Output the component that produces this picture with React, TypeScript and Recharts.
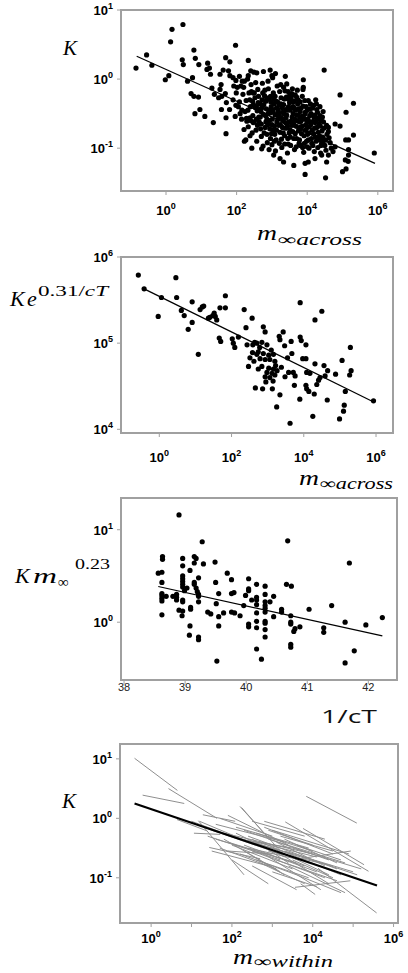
import React from 'react';
import { ScatterChart, Scatter, XAxis, YAxis, ReferenceArea } from 'recharts';

type Pair = [number, number];
type Seg = [number, number, number, number];

const FRAME = '#a0a0a0';
const GRAY = '#8f8f8f';
const SANS = '"Liberation Sans", Arial, sans-serif';
const SERIF = '"Liberation Serif", "DejaVu Serif", serif';

// panel 1: [log10 m∞ across, log10 K]
const ACROSS_SPARSE: Pair[] = [
  [-0.85, 0.16], [-0.55, 0.35], [-0.4, 0.2], [0.13, 0.54], [0.17, 0.72], [0.48, 0.79], [-0.02, -0.01],
  [0.08, 0.05], [0.46, 0.28], [0.49, 0.21], [0.61, -0.03], [0.75, 0.02], [0.79, 0.42], [0.83, 0.3],
  [0.93, 0.21], [0.71, -0.21], [0.79, -0.25], [0.92, -0.26], [0.82, -0.5], [0.96, -0.44], [1.1, -0.54],
  [1.18, 0.23], [1.23, 0.16], [1.16, 0.14], [1.26, 0.07], [1.34, -0.63], [1.3, -0.13], [1.37, -0.22],
  [1.69, 0.31], [1.97, 0.49], [1.7, -0.79], [1.81, 0.25], [1.62, 0.13], [1.77, 0.12], [1.53, 0.07],
  [1.56, -0.08], [1.53, -0.15], [1.49, -0.27], [1.58, -0.25], [1.68, -0.21], [1.81, 0.05], [1.9, 0.02],
  [1.98, -0.02], [2.08, 0.04], [2.12, -0.1], [2.22, -0.03], [2.33, 0.27], [2.33, 0.05], [2.4, 0.12],
  [2.49, 0.1], [2.31, 0.0], [2.47, -0.2], [1.99, -0.2], [1.9, -0.3], [1.71, -0.34], [1.57, -0.44],
  [1.8, -0.44], [1.7, -0.56], [1.96, -0.54], [2.05, -0.4], [2.15, -0.45], [2.21, -0.73], [2.22, -0.9],
  [2.26, -0.88], [2.38, -0.82], [2.43, -1.0], [2.29, -0.61], [2.38, -0.56], [2.47, -0.63], [2.56, -0.4],
  [2.57, 0.09], [2.95, 0.13], [3.0, 0.05], [3.02, 0.02], [2.89, -0.03], [3.42, -0.07], [3.33, -0.12],
  [3.89, -0.01], [3.89, -0.12], [4.48, 0.13], [4.93, -0.23], [5.31, -0.35], [5.1, -0.48], [4.79, -0.65],
  [4.93, -0.68], [5.31, -0.81], [5.09, -0.88], [5.17, -0.88], [5.17, -1.02], [5.17, -1.1], [5.08, -1.17],
  [5.16, -1.19], [5.9, -1.07], [5.0, -1.34], [5.1, -1.3], [4.52, -1.43], [3.94, -1.38], [3.94, -1.22],
  [4.03, -1.2], [3.62, -1.25], [3.33, -1.2], [3.23, -1.15], [3.05, -1.1], [2.71, -1.01], [4.22, -1.15],
  [4.41, -1.1], [4.55, -1.2], [4.6, -1.1], [4.73, -1.05], [4.79, -0.98], [4.45, -0.93], [4.41, -0.86],
  [4.6, -0.76], [4.55, -0.67], [4.31, -0.57], [4.22, -0.52], [4.36, -0.4], [4.26, -0.36], [4.03, -0.31],
  [4.08, -0.43], [3.94, -0.5], [3.8, -0.33], [3.75, -0.43], [3.7, -0.26], [3.6, -0.33], [3.56, -0.21],
  [3.46, -0.29], [2.76, 0.11], [3.38, 0.04], [3.1, 0.08],
];
const ACROSS_CORE: Pair[] = [
  [2.02, -0.12], [2.18, -0.22], [2.27, -0.31], [2.41, -0.08], [2.52, -0.27], [2.6, -0.15], [2.66, -0.36],
  [2.73, -0.06], [2.79, -0.24], [2.84, -0.43], [2.9, -0.14], [2.97, -0.33], [3.04, -0.2], [3.09, -0.52],
  [3.15, -0.1], [3.2, -0.38], [3.26, -0.27], [3.31, -0.6], [3.37, -0.17], [3.43, -0.45], [3.5, -0.34],
  [3.57, -0.55], [3.63, -0.42], [3.68, -0.68], [3.74, -0.52], [3.82, -0.61], [3.88, -0.39], [3.95, -0.74],
  [4.02, -0.58], [4.1, -0.66], [4.18, -0.79], [4.27, -0.7], [4.34, -0.88], [4.42, -0.75], [4.5, -0.96],
  [4.62, -0.85], [4.68, -1.0], [2.08, -0.33], [2.14, -0.58], [2.24, -0.47], [2.33, -0.69], [2.39, -0.4],
  [2.46, -0.53], [2.55, -0.74], [2.58, -0.46], [2.64, -0.62], [2.7, -0.83], [2.76, -0.51], [2.81, -0.7],
  [2.87, -0.92], [2.93, -0.6], [2.99, -0.79], [3.02, -0.44], [3.07, -0.68], [3.12, -0.88], [3.17, -0.58],
  [3.23, -0.77], [3.28, -0.99], [3.34, -0.5], [3.39, -0.71], [3.45, -0.86], [3.48, -0.62], [3.53, -0.96],
  [3.59, -0.76], [3.64, -1.02], [3.7, -0.86], [3.77, -0.93], [3.84, -0.79], [3.9, -1.06], [3.98, -0.9],
  [4.05, -1.0], [4.13, -0.93], [4.2, -1.05], [4.3, -0.99], [4.38, -1.07], [2.2, -0.12], [2.35, -0.2],
  [2.48, -0.37], [2.62, -0.25], [2.69, -0.47], [2.83, -0.32], [2.95, -0.49], [3.05, -0.29], [3.13, -0.42],
  [3.22, -0.18], [3.3, -0.48], [3.41, -0.26], [3.55, -0.3], [3.66, -0.23], [3.73, -0.36], [3.8, -0.47],
  [3.86, -0.25], [3.92, -0.57], [4.0, -0.45], [4.07, -0.53], [4.15, -0.42], [4.22, -0.63], [4.29, -0.48],
  [4.4, -0.6], [4.47, -0.71], [4.56, -0.8], [4.65, -0.92], [2.5, -0.62], [2.57, -0.9], [2.68, -0.72],
  [2.75, -0.97], [2.86, -0.58], [2.92, -1.02], [3.0, -0.95], [3.1, -1.04], [3.19, -0.67], [3.27, -0.87],
  [3.36, -0.94], [3.44, -1.07], [3.51, -0.73], [3.61, -0.64], [3.69, -0.98], [3.79, -0.7], [3.87, -0.99],
  [3.96, -0.66], [4.04, -0.78], [4.12, -0.86], [4.25, -0.9], [4.33, -0.65], [4.44, -0.84], [4.53, -1.03],
  [1.92, -0.1], [1.98, -0.38], [2.1, -0.5], [2.16, -0.03], [2.28, -0.57], [2.37, -0.3], [2.44, -0.78],
  [2.54, -0.05], [2.63, -0.55], [2.72, -0.3], [2.8, -0.16], [2.88, -0.66], [2.96, -0.25], [3.03, -0.74],
  [3.11, -0.32], [3.18, -0.5], [3.25, -0.08], [3.33, -0.37], [3.4, -0.56], [3.46, -0.18], [3.52, -0.45],
  [3.58, -0.14], [3.65, -0.58], [3.72, -0.16], [3.78, -0.62], [3.85, -0.54], [3.93, -0.31], [4.0, -0.7],
  [4.09, -0.36], [4.17, -0.61], [4.24, -0.3], [4.36, -0.53], [4.45, -0.47],
];
const ACROSS_DENSE: Pair[] = [
  [2.45, -0.32], [2.53, -0.41], [2.61, -0.34], [2.67, -0.55], [2.71, -0.42], [2.77, -0.37], [2.82, -0.53],
  [2.85, -0.27], [2.91, -0.45], [2.94, -0.72], [2.98, -0.4], [3.01, -0.58], [3.06, -0.36], [3.08, -0.8],
  [3.14, -0.62], [3.16, -0.33], [3.21, -0.53], [3.24, -0.66], [3.29, -0.41], [3.32, -0.78], [3.35, -0.29],
  [3.38, -0.63], [3.42, -0.52], [3.47, -0.4], [3.49, -0.78], [3.54, -0.61], [3.56, -0.24], [3.6, -0.5],
  [3.62, -0.86], [3.67, -0.45], [3.71, -0.6], [3.75, -0.75], [3.79, -0.55], [3.83, -0.42], [3.86, -0.68],
  [3.91, -0.82], [3.94, -0.48], [3.99, -0.6], [4.03, -0.88], [4.06, -0.69], [4.11, -0.5], [4.14, -0.74],
  [4.19, -0.55], [4.23, -0.84], [4.28, -0.59], [4.31, -0.77], [4.37, -0.68], [4.41, -0.93], [4.46, -0.62],
  [4.52, -0.88], [2.5, -0.2], [2.56, -0.58], [2.64, -0.44], [2.7, -0.65], [2.74, -0.2], [2.78, -0.78],
  [2.83, -0.62], [2.89, -0.5], [2.92, -0.29], [2.96, -0.86], [3.0, -0.66], [3.04, -0.48], [3.09, -0.25],
  [3.13, -0.74], [3.18, -0.45], [3.21, -0.93], [3.27, -0.56], [3.3, -0.7], [3.36, -0.82], [3.39, -0.44],
  [3.44, -0.68], [3.48, -0.25], [3.52, -0.84], [3.57, -0.67], [3.6, -0.4], [3.66, -0.79], [3.7, -0.52],
  [3.74, -0.3], [3.78, -0.88], [3.82, -0.71], [3.89, -0.58], [3.92, -0.93], [3.97, -0.4], [4.01, -0.8],
  [4.08, -0.62], [4.16, -0.96], [4.21, -0.71], [4.27, -0.44], [4.35, -0.82], [4.43, -0.55], [2.32, -0.45],
  [2.4, -0.6], [2.42, -0.18], [2.59, -0.67], [2.86, -0.8], [3.07, -0.9], [3.25, -0.36], [3.46, -0.94],
  [3.63, -0.32], [3.81, -0.96], [3.88, -0.15], [4.0, -0.98], [4.18, -0.38], [4.39, -0.96], [4.6, -0.7],
];
const ACROSS_FIT: Pair[] = [[-0.83, 0.33], [5.92, -1.22]];

// panel 2: [log10 m∞ across, log10 K e^(0.31/cT)]
const TEMP_CORR: Pair[] = [
  [-0.58, 5.79], [-0.42, 5.63], [-0.03, 5.31], [0.06, 5.53], [0.46, 5.76], [0.48, 5.53], [0.61, 5.38],
  [0.69, 5.32], [0.8, 5.16], [0.91, 5.48], [0.91, 5.24], [1.08, 4.87], [1.13, 5.39], [1.19, 5.42],
  [1.23, 5.43], [1.36, 5.29], [1.4, 5.3], [1.48, 5.32], [1.52, 5.35], [1.55, 5.31], [1.59, 5.27],
  [1.68, 5.41], [1.66, 5.06], [1.7, 5.02], [1.83, 5.55], [1.83, 5.41], [2.02, 5.05], [2.05, 5.0],
  [2.09, 4.95], [2.19, 5.07], [2.35, 5.39], [2.4, 5.18], [2.43, 4.98], [2.47, 4.73], [2.57, 5.29],
  [2.59, 4.98], [2.64, 5.01], [2.66, 4.48], [2.7, 4.87], [2.58, 4.89], [2.88, 5.19], [2.93, 5.13],
  [2.7, 5.0], [2.84, 5.01], [2.98, 4.98], [2.74, 4.9], [2.88, 4.88], [3.03, 4.86], [3.16, 4.87],
  [2.79, 4.82], [2.93, 4.81], [3.06, 4.81], [3.2, 4.79], [2.84, 4.73], [3.03, 4.71], [3.16, 4.7],
  [3.26, 4.68], [2.74, 4.7], [2.98, 4.66], [3.12, 4.65], [2.93, 4.61], [3.06, 4.6], [3.2, 4.63],
  [2.86, 4.47], [3.13, 4.47], [3.34, 4.4], [3.25, 4.26], [3.34, 5.04], [3.32, 5.08], [3.43, 5.13],
  [3.47, 4.97], [3.65, 5.02], [3.67, 4.88], [3.9, 5.47], [3.9, 5.07], [3.93, 5.03], [4.06, 4.98],
  [3.97, 4.82], [4.06, 4.82], [3.58, 4.66], [3.71, 4.66], [3.76, 4.62], [3.48, 4.61], [3.74, 4.51],
  [3.89, 4.35], [4.08, 4.66], [4.17, 4.65], [4.06, 4.51], [4.08, 4.47], [4.14, 4.44], [4.29, 4.41],
  [4.31, 5.27], [4.5, 5.37], [4.31, 4.76], [4.36, 4.52], [4.41, 4.57], [4.45, 4.6], [4.56, 4.74],
  [4.59, 4.62], [4.66, 4.68], [4.65, 4.34], [4.25, 4.15], [3.62, 4.07], [4.88, 4.64], [5.06, 4.8],
  [5.29, 4.95], [5.31, 4.68], [5.27, 4.63], [5.15, 4.44], [5.12, 4.28], [5.1, 4.21], [4.99, 4.12],
  [5.93, 4.33], [2.62, 4.79], [2.78, 4.95], [3.1, 4.92], [3.22, 4.74], [2.95, 4.55], [3.15, 4.56],
  [2.51, 4.83], [3.38, 4.72], [3.55, 4.83],
];
const TEMP_FIT: Pair[] = [[-0.42, 5.63], [5.92, 4.32]];

// panel 3: [1/cT, log10 K m∞^0.23]
const MASS_CORR: Pair[] = [
  [38.9, 1.16], [39.28, 0.87], [38.63, 0.71], [38.63, 0.68], [38.56, 0.53], [38.62, 0.54], [38.62, 0.43],
  [38.62, 0.31], [38.62, 0.29], [38.69, 0.28], [38.62, 0.26], [38.62, 0.23], [38.62, 0.08], [38.8, 0.28],
  [38.86, 0.27], [38.86, 0.24], [38.86, 0.3], [38.9, 0.13], [38.96, 0.12], [38.95, 0.07], [38.96, 0.69],
  [38.96, 0.61], [38.96, 0.5], [38.96, 0.47], [38.96, 0.44], [38.96, 0.41], [38.96, 0.38], [38.99, 0.34],
  [39.03, 0.37], [38.96, 0.24], [38.96, 0.22], [39.08, 0.56], [39.15, 0.71], [39.18, 0.69], [39.15, 0.64],
  [39.22, 0.48], [39.15, 0.43], [39.15, 0.41], [39.18, 0.37], [39.2, 0.33], [39.22, 0.3], [39.22, 0.28],
  [39.22, 0.22], [39.09, 0.16], [39.09, 0.14], [39.08, -0.04], [39.07, -0.14], [39.22, -0.16],
  [39.22, -0.19], [39.3, 0.63], [39.49, 0.65], [39.5, 0.43], [39.55, 0.31], [39.51, 0.2], [39.55, 0.06],
  [39.55, -0.04], [39.37, 0.11], [39.42, 0.09], [39.63, 0.1], [39.69, 0.53], [39.76, 0.46], [39.76, 0.31],
  [39.8, 0.32], [39.76, 0.11], [39.81, 0.1], [39.9, 0.07], [39.96, 0.18], [39.99, 0.29], [40.04, 0.47],
  [40.04, 0.36], [40.04, 0.34], [40.04, -0.02], [40.04, -0.05], [40.09, 0.24], [40.17, 0.41],
  [40.17, 0.27], [40.17, 0.24], [40.17, 0.19], [40.17, 0.1], [40.17, 0.01], [40.17, -0.06], [40.17, -0.29],
  [39.52, -0.42], [40.31, 0.39], [40.31, 0.3], [40.31, 0.22], [40.31, 0.18], [40.31, 0.15], [40.31, 0.11],
  [40.31, 0.01], [40.31, -0.01], [40.31, -0.08], [40.31, -0.16], [40.25, -0.4], [40.39, 0.22],
  [40.45, 0.28], [40.45, 0.06], [40.58, 0.14], [40.58, 0.11], [40.68, 0.88], [40.66, 0.41], [40.74, 0.39],
  [40.73, 0.07], [40.73, 0.0], [40.73, -0.02], [40.73, -0.24], [40.73, -0.27], [40.78, -0.1], [40.8, -0.07],
  [40.88, -0.05], [41.03, 0.14], [41.27, -0.06], [41.27, -0.11], [41.4, 0.18], [41.62, 0.0], [41.69, 0.64],
  [41.77, -0.31], [41.62, -0.44], [41.96, -0.03], [42.23, 0.05],
];
const MASS_FIT: Pair[] = [[38.56, 0.386], [42.23, -0.148]];

// panel 4: within-group regressions, [log10 m1, log10 K1, log10 m2, log10 K2]
const WITHIN_SEGMENTS: Seg[] = [
  [-0.41, 1.01, 0.65, 0.47], [-0.21, 0.39, 0.82, 0.25], [0.43, 0.5, 1.63, 0.0], [3.84, 0.37, 5.09, -0.08],
  [3.32, -0.06, 5.38, -0.89], [3.76, -0.17, 5.27, -0.78], [4.13, -0.84, 5.58, -1.59], [3.57, -0.69, 4.94, -0.55],
  [3.56, -1.16, 4.93, -1.05], [0.64, -0.02, 1.38, -0.21], [1.17, -0.04, 2.3, -0.95], [1.06, -0.25, 1.71, -0.27],
  [1.28, 0.06, 2.08, -0.05], [1.44, -0.49, 2.7, -0.68], [2.24, 0.18, 2.86, -0.3],
  [1.2, -0.05, 2.6, -0.45], [1.3, -0.15, 3.0, -0.55], [1.4, -0.3, 3.2, -0.7], [1.5, -0.2, 3.5, -0.6],
  [1.6, -0.1, 3.3, -0.4], [1.6, -0.35, 3.6, -0.75], [1.7, -0.5, 3.1, -0.85], [1.8, -0.25, 4.0, -0.6],
  [1.9, 0.05, 3.4, -0.45], [1.9, -0.4, 3.8, -0.8], [2.0, -0.3, 4.2, -0.75], [2.1, -0.15, 3.9, -0.5],
  [2.2, -0.6, 3.6, -0.95], [2.3, -0.2, 4.4, -0.7], [2.3, -0.45, 4.1, -0.9], [2.4, -0.3, 4.6, -0.85],
  [2.5, -0.05, 3.8, -0.3], [2.5, -0.55, 4.3, -1.0], [2.6, -0.25, 4.0, -0.55], [2.7, -0.4, 4.7, -0.95],
  [2.8, -0.15, 4.5, -0.6], [2.8, -0.6, 4.2, -1.2], [2.9, -0.35, 4.8, -0.75], [3.0, -0.5, 4.4, -0.95],
  [3.0, -0.2, 4.9, -0.6], [3.1, -0.7, 4.6, -1.05], [3.2, -0.3, 4.5, -0.55], [3.3, -0.55, 5.0, -0.9],
  [3.4, -0.8, 4.8, -1.25], [2.0, -0.7, 2.9, -1.1], [2.2, 0.2, 3.2, -0.55], [2.8, -0.05, 4.3, -0.35],
  [3.5, -0.5, 5.2, -0.85], [4.0, -0.7, 5.1, -0.95], [3.6, -0.95, 4.7, -1.25], [3.0, -0.9, 4.1, -1.15],
  [2.5, -0.8, 3.6, -1.2], [3.7, -1.1, 4.06, -1.28], [1.0, -0.05, 2.2, -0.35], [1.5, -0.55, 2.9, -0.8],
  [2.6, -0.7, 3.9, -1.0], [1.7, 0.0, 3.0, -0.3], [2.2, -0.35, 3.5, -0.5], [3.1, -0.4, 4.3, -0.8],
  [1.8, -0.35, 3.2, -0.9], [2.0, -0.45, 3.5, -0.85], [2.4, -0.5, 3.7, -0.7], [2.6, -0.4, 4.1, -0.65],
  [2.1, -0.25, 3.3, -0.65], [2.9, -0.55, 4.5, -0.8], [3.2, -0.6, 4.4, -1.1], [2.7, -0.75, 3.8, -1.1],
  [2.3, -0.55, 3.3, -0.95], [3.3, -0.35, 4.6, -0.75], [1.9, -0.55, 3.0, -0.6], [2.5, -0.35, 3.4, -0.75],
  [3.5, -0.7, 4.5, -1.0], [2.9, -0.2, 4.0, -0.45], [3.6, -0.45, 4.7, -0.7],
];
const WITHIN_FIT: Pair[] = [[-0.41, 0.25], [5.59, -1.13]];

const logLog = (v: Pair[]) => v.map(([a, b]) => ({ x: 10 ** a, y: 10 ** b }));
const linLog = (v: Pair[]) => v.map(([a, b]) => ({ x: a, y: 10 ** b }));

const Dot = (p: any) => <circle cx={p.cx} cy={p.cy} r={2.6} fill="#000" />;
const NoShape = () => <g />;

function PowTickX(props: any) {
  const { x, y, payload, drop, evenOnly } = props;
  const e = Math.round(Math.log10(payload.value));
  if (evenOnly && e % 2 !== 0) return <g />;
  return (
    <text x={x} y={y + drop} textAnchor="middle" fontFamily={SANS} fontWeight={700} fontSize={13} fill="#000">
      10<tspan dy={-6} fontSize={9}>{e}</tspan>
    </text>
  );
}

function PowTickY(props: any) {
  const { x, y, payload } = props;
  const e = Math.round(Math.log10(payload.value));
  return (
    <text x={x} y={y + 5} textAnchor="end" fontFamily={SANS} fontWeight={700} fontSize={13} fill="#000">
      10<tspan dy={-6} fontSize={9}>{e}</tspan>
    </text>
  );
}

function PlainTickX(props: any) {
  const { x, y, payload } = props;
  return (
    <text x={x} y={y + 5} textAnchor="middle" fontFamily={SANS} fontSize={11} fill="#222">
      {payload.value}
    </text>
  );
}

const axisLine = { stroke: FRAME, strokeWidth: 2 };
const tickLine = { stroke: FRAME };

const P1X: [number, number] = [10 ** -1.275, 10 ** 6.43];
const P1Y: [number, number] = [10 ** -1.62, 10];
const P2X: [number, number] = [10 ** -1.06, 10 ** 6.47];
const P2Y: [number, number] = [10 ** 3.957, 10 ** 6];
const P3X: [number, number] = [37.95, 42.47];
const P3Y: [number, number] = [10 ** -0.625, 10 ** 1.343];
const P4X: [number, number] = [10 ** -0.77, 10 ** 6.11];
const P4Y: [number, number] = [10 ** -1.76, 10 ** 1.25];

export default function App() {
  return (
    <div style={{ position: 'absolute', left: 0, top: 0, width: 408, height: 973, background: '#fff' }}>
      <div style={{ position: 'absolute', left: 0, top: 0 }}>
        <ScatterChart width={408} height={240} margin={{ top: 10, right: 15, bottom: 19, left: 0 }}>
          <XAxis type="number" dataKey="x" scale="log" domain={P1X} allowDataOverflow ticks={[1, 1e2, 1e4, 1e6]}
            interval={0} height={30} axisLine={axisLine} tickLine={tickLine} tickSize={4}
            tick={(p: any) => <PowTickX {...p} drop={18} />} />
          <YAxis type="number" dataKey="y" scale="log" domain={P1Y} allowDataOverflow ticks={[0.1, 1, 10]}
            interval={0} width={121} axisLine={axisLine} tickLine={tickLine} tickSize={4} tickMargin={4}
            tick={(p: any) => <PowTickY {...p} />} />
          <ReferenceArea x1={P1X[0]} x2={P1X[1]} y1={P1Y[0]} y2={P1Y[1]} fill="none" stroke={FRAME} strokeWidth={2} ifOverflow="visible" />
          <Scatter data={logLog(ACROSS_SPARSE)} shape={Dot} isAnimationActive={false} />
          <Scatter data={logLog(ACROSS_CORE)} shape={Dot} isAnimationActive={false} />
          <Scatter data={logLog(ACROSS_DENSE)} shape={Dot} isAnimationActive={false} />
          <Scatter data={logLog(ACROSS_FIT)} shape={NoShape} line={{ stroke: '#000', strokeWidth: 1.2 }} isAnimationActive={false} />
        </ScatterChart>
      </div>

      <div style={{ position: 'absolute', left: 0, top: 245 }}>
        <ScatterChart width={408} height={230} margin={{ top: 12, right: 15, bottom: 7, left: 0 }}>
          <XAxis type="number" dataKey="x" scale="log" domain={P2X} allowDataOverflow ticks={[1, 1e2, 1e4, 1e6]}
            interval={0} height={35} axisLine={axisLine} tickLine={tickLine} tickSize={4}
            tick={(p: any) => <PowTickX {...p} drop={23} />} />
          <YAxis type="number" dataKey="y" scale="log" domain={P2Y} allowDataOverflow ticks={[1e4, 1e5, 1e6]}
            interval={0} width={121} axisLine={axisLine} tickLine={tickLine} tickSize={4} tickMargin={4}
            tick={(p: any) => <PowTickY {...p} />} />
          <ReferenceArea x1={P2X[0]} x2={P2X[1]} y1={P2Y[0]} y2={P2Y[1]} fill="none" stroke={FRAME} strokeWidth={2} ifOverflow="visible" />
          <Scatter data={logLog(TEMP_CORR)} shape={Dot} isAnimationActive={false} />
          <Scatter data={logLog(TEMP_FIT)} shape={NoShape} line={{ stroke: '#000', strokeWidth: 1.2 }} isAnimationActive={false} />
        </ScatterChart>
      </div>

      <div style={{ position: 'absolute', left: 0, top: 485 }}>
        <ScatterChart width={408} height={220} margin={{ top: 13, right: 11, bottom: 5, left: 0 }}>
          <XAxis type="number" dataKey="x" domain={P3X} allowDataOverflow ticks={[38, 39, 40, 41, 42]}
            interval={0} height={20} axisLine={axisLine} tickLine={tickLine} tickSize={4}
            tick={(p: any) => <PlainTickX {...p} />} />
          <YAxis type="number" dataKey="y" scale="log" domain={P3Y} allowDataOverflow ticks={[1, 10]}
            interval={0} width={121} axisLine={axisLine} tickLine={tickLine} tickSize={4} tickMargin={4}
            tick={(p: any) => <PowTickY {...p} />} />
          <ReferenceArea x1={P3X[0]} x2={P3X[1]} y1={P3Y[0]} y2={P3Y[1]} fill="none" stroke={FRAME} strokeWidth={2} ifOverflow="visible" />
          <Scatter data={linLog(MASS_CORR)} shape={Dot} isAnimationActive={false} />
          <Scatter data={linLog(MASS_FIT)} shape={NoShape} line={{ stroke: '#000', strokeWidth: 1.2 }} isAnimationActive={false} />
        </ScatterChart>
      </div>

      <div style={{ position: 'absolute', left: 0, top: 730 }}>
        <ScatterChart width={408} height={225} margin={{ top: 14, right: 10, bottom: 4, left: 0 }}>
          <XAxis type="number" dataKey="x" scale="log" domain={P4X} allowDataOverflow
            ticks={[1, 10, 1e2, 1e3, 1e4, 1e5, 1e6]} interval={0} height={28} axisLine={axisLine}
            tickLine={tickLine} tickSize={4} tick={(p: any) => <PowTickX {...p} drop={14} evenOnly />} />
          <YAxis type="number" dataKey="y" scale="log" domain={P4Y} allowDataOverflow ticks={[0.1, 1, 10]}
            interval={0} width={120} axisLine={axisLine} tickLine={tickLine} tickSize={4} tickMargin={4}
            tick={(p: any) => <PowTickY {...p} />} />
          <ReferenceArea x1={P4X[0]} x2={P4X[1]} y1={P4Y[0]} y2={P4Y[1]} fill="none" stroke={FRAME} strokeWidth={2} ifOverflow="visible" />
          {WITHIN_SEGMENTS.map(([a, b, c, d], i) => (
            <Scatter key={i} data={logLog([[a, b], [c, d]])} shape={NoShape}
              line={{ stroke: GRAY, strokeWidth: 1 }} isAnimationActive={false} />
          ))}
          <Scatter data={logLog(WITHIN_FIT)} shape={NoShape} line={{ stroke: '#000', strokeWidth: 2.2 }} isAnimationActive={false} />
        </ScatterChart>
      </div>

      <svg width={408} height={973} style={{ position: 'absolute', left: 0, top: 0, pointerEvents: 'none' }}>
        <g fontFamily={SERIF} fill="#000">
          <text x={63} y={55} fontSize={21} fontStyle="italic">K</text>
          <text x={257} y={240} fontSize={22} fontStyle="italic" textLength={20} lengthAdjust="spacingAndGlyphs">m</text>
          <text x={278} y={245} fontSize={16} fontStyle="italic" textLength={84} lengthAdjust="spacingAndGlyphs">∞across</text>

          <text x={10} y={306} fontSize={22} fontStyle="italic">K</text>
          <text x={27} y={306} fontSize={22} fontStyle="italic">e</text>
          <text x={38} y={296} fontSize={15} textLength={70} lengthAdjust="spacingAndGlyphs">
            0.31/<tspan fontStyle="italic">cT</tspan>
          </text>
          <text x={299} y={485} fontSize={22} fontStyle="italic" textLength={20} lengthAdjust="spacingAndGlyphs">m</text>
          <text x={320} y={489} fontSize={16} fontStyle="italic" textLength={73} lengthAdjust="spacingAndGlyphs">∞across</text>

          <text x={15} y={583} fontSize={22} fontStyle="italic">K</text>
          <text x={33} y={583} fontSize={22} fontStyle="italic" textLength={24} lengthAdjust="spacingAndGlyphs">m</text>
          <text x={58} y={587} fontSize={15}>∞</text>
          <text x={75} y={569} fontSize={15} textLength={35} lengthAdjust="spacingAndGlyphs">0.23</text>

          <text x={62} y={808} fontSize={21} fontStyle="italic">K</text>
          <text x={233} y={964} fontSize={22} fontStyle="italic" textLength={20} lengthAdjust="spacingAndGlyphs">m</text>
          <text x={254} y={967} fontSize={16} fontStyle="italic" textLength={79} lengthAdjust="spacingAndGlyphs">∞within</text>
        </g>
        <text x={321} y={723} fontFamily={'"Open Sans", "Liberation Sans", sans-serif'} fontSize={18} fill="#111"
          textLength={56} lengthAdjust="spacingAndGlyphs">1/cT</text>
      </svg>
    </div>
  );
}
